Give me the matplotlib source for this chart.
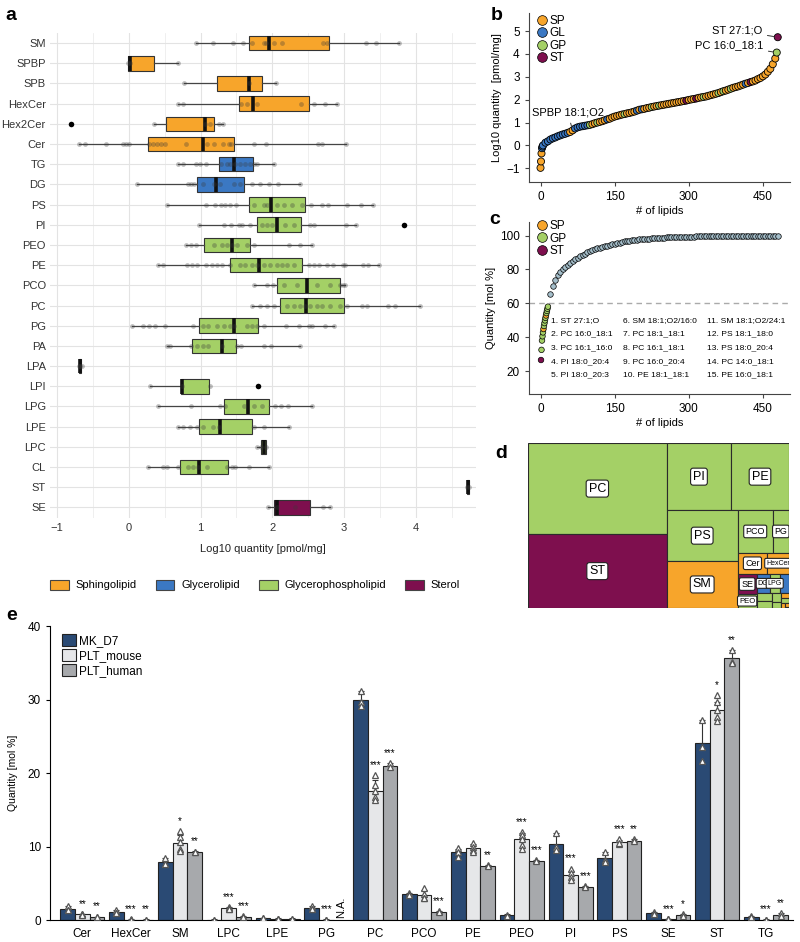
import numpy as np
import matplotlib.pyplot as plt
from matplotlib.patches import Patch, Rectangle
from matplotlib.lines import Line2D

plt.rcParams['font.family'] = ['Liberation Sans', 'DejaVu Sans']

# colours of the lipid categories
cat_colors = {'SP': '#F7A52B', 'GL': '#3B78C3', 'GP': '#A4D066', 'ST': '#7E0F4E'}

# ---------------- panel a: log10 quantity per class ----------------
a_classes = ['SM', 'SPBP', 'SPB', 'HexCer', 'Hex2Cer', 'Cer', 'TG', 'DG', 'PS', 'PI', 'PEO', 'PE',
             'PCO', 'PC', 'PG', 'PA', 'LPA', 'LPI', 'LPG', 'LPE', 'LPC', 'CL', 'ST', 'SE']
a_group = ['SP'] * 6 + ['GL'] * 2 + ['GP'] * 14 + ['ST'] * 2
a_q1 = [1.68, -0.01, 1.23, 1.54, 0.52, 0.26, 1.25, 0.95, 1.67, 1.78, 1.05, 1.41,
        2.07, 2.11, 0.98, 0.88, -0.70, 0.73, 1.33, 0.98, 1.84, 0.71, 4.72, 2.02]
a_med = [1.96, 0.01, 1.67, 1.73, 1.06, 1.03, 1.46, 1.22, 1.98, 2.07, 1.44, 1.81,
         2.49, 2.47, 1.47, 1.30, -0.68, 0.74, 1.66, 1.27, 1.89, 0.98, 4.73, 2.07]
a_q3 = [2.79, 0.35, 1.86, 2.51, 1.19, 1.47, 1.73, 1.60, 2.46, 2.40, 1.69, 2.42,
        2.94, 3.00, 1.80, 1.49, -0.67, 1.12, 1.95, 1.71, 1.91, 1.38, 4.74, 2.52]
a_lo = [0.94, -0.01, 0.77, 0.69, 0.35, -0.69, 0.69, 0.11, 0.53, 0.98, 0.79, 0.41,
        1.74, 1.72, 0.04, 0.53, -0.70, 0.29, 0.41, 0.68, 1.78, 0.26, 4.72, 1.94]
a_hi = [3.76, 0.69, 2.05, 2.90, 1.31, 3.03, 2.03, 2.39, 3.40, 3.17, 2.55, 3.49,
        3.02, 4.06, 2.86, 2.38, -0.67, 1.12, 2.55, 2.23, 1.91, 1.95, 4.74, 2.81]
a_outliers = [[], [], [], [], [-0.81], [], [], [], [], [3.84], [], [],
              [], [], [], [], [], [1.80], [], [], [], [], [], []]
a_points = [
    [0.94, 1.17, 1.45, 1.59, 1.72, 1.88, 1.91, 2.03, 2.13, 2.70, 2.76, 3.31, 3.44, 3.76],
    [-0.01, 0.01, 0.69],
    [0.77, 1.67, 2.05],
    [0.69, 0.75, 1.56, 1.65, 1.78, 2.40, 2.58, 2.73, 2.90],
    [0.35, 1.06, 1.13, 1.25, 1.31],
    [-0.69, -0.61, -0.32, -0.08, -0.04, 0.00, 0.28, 0.34, 0.39, 0.45, 0.51, 0.80, 1.09,
     1.18, 1.31, 1.39, 1.43, 1.75, 1.91, 2.63, 2.69, 3.03],
    [0.69, 0.76, 0.93, 0.99, 1.08, 1.28, 1.37, 1.41, 1.48, 1.55, 1.62, 1.69, 1.75, 1.78, 2.03],
    [0.11, 0.82, 0.86, 0.91, 1.04, 1.18, 1.27, 1.46, 1.55, 1.72, 1.83, 1.96, 2.08, 2.39],
    [0.53, 1.08, 1.20, 1.28, 1.34, 1.41, 1.49, 1.74, 1.88, 1.92, 2.06, 2.16, 2.27, 2.41,
     2.54, 2.69, 2.78, 3.04, 3.24, 3.40],
    [0.98, 1.33, 1.43, 1.53, 1.58, 1.69, 1.85, 1.92, 1.99, 2.18, 2.30, 2.53, 2.58, 3.03, 3.17],
    [0.79, 0.86, 0.93, 1.18, 1.30, 1.37, 1.44, 1.51, 1.65, 1.74, 2.23, 2.39, 2.55],
    [0.41, 0.48, 0.81, 0.88, 0.95, 1.08, 1.16, 1.23, 1.30, 1.41, 1.55, 1.62, 1.72, 1.79, 1.88,
     1.97, 2.06, 2.13, 2.20, 2.30, 2.51, 2.58, 2.65, 2.76, 2.85, 2.99, 3.02, 3.27, 3.34, 3.49],
    [1.74, 1.92, 2.01, 2.16, 2.34, 2.62, 2.81, 2.95, 2.99, 3.02],
    [1.72, 1.83, 1.92, 2.03, 2.20, 2.30, 2.39, 2.46, 2.53, 2.62, 2.69, 2.81, 2.95, 3.04,
     3.25, 3.32, 3.61, 3.71, 4.06],
    [0.04, 0.20, 0.28, 0.37, 0.50, 0.90, 1.04, 1.11, 1.23, 1.32, 1.41, 1.47, 1.65, 1.72,
     1.79, 1.88, 2.19, 2.37, 2.51, 2.55, 2.74, 2.86],
    [0.53, 0.58, 0.86, 0.95, 1.04, 1.11, 1.30, 1.51, 1.56, 1.89, 1.98, 2.38],
    [-0.70, -0.68, -0.66],
    [0.29, 0.74, 1.13],
    [0.41, 0.86, 1.27, 1.34, 1.60, 1.74, 1.85, 2.04, 2.12, 2.22, 2.55],
    [0.68, 0.75, 0.85, 0.95, 1.03, 1.17, 1.25, 1.74, 1.89, 2.23],
    [1.78, 1.84, 1.91],
    [0.26, 0.47, 0.53, 0.68, 0.83, 0.90, 0.97, 1.09, 1.37, 1.44, 1.48, 1.67, 1.95],
    [4.72, 4.74],
    [1.94, 2.07, 2.32, 2.71, 2.81],
]
a_legend = ['Sphingolipid', 'Glycerolipid', 'Glycerophospholipid', 'Sterol']

# ---------------- panel b: ranked log10 quantity ----------------
b_rank = np.r_[[0, 1, 2, 3, 4], np.arange(5, 476, 5), [478, 480]]
b_values = [-0.98, -0.70, -0.35, -0.12, -0.05,
            0.00, 0.12, 0.18, 0.26, 0.31, 0.35, 0.40, 0.44, 0.48, 0.51,
            0.55, 0.59, 0.66, 0.74, 0.79, 0.82, 0.84, 0.86, 0.88, 0.90,
            0.93, 0.97, 1.00, 1.03, 1.06, 1.10, 1.14, 1.17, 1.22, 1.26,
            1.29, 1.32, 1.35, 1.37, 1.40, 1.42, 1.45, 1.48, 1.52, 1.56,
            1.58, 1.60, 1.63, 1.65, 1.68, 1.70, 1.72, 1.74, 1.76, 1.78,
            1.80, 1.82, 1.84, 1.86, 1.88, 1.90, 1.92, 1.94, 1.96, 1.99,
            2.01, 2.03, 2.05, 2.08, 2.10, 2.12, 2.14, 2.17, 2.20, 2.23,
            2.26, 2.29, 2.33, 2.37, 2.40, 2.44, 2.48, 2.52, 2.55, 2.58,
            2.62, 2.66, 2.70, 2.73, 2.77, 2.80, 2.84, 2.90, 2.95, 3.02,
            3.10, 3.22, 3.35, 3.55, 3.80,
            4.06, 4.73]
b_cats = ("OOOBB" "BBBBBBBBBB" "BOOBBBBBBG" "OOGOOOBOOO" "OOOGOOOOBO" "BOOOGOOGOO"
          "OOOOOOOOPO" "OOPOOGOOOO" "OGOGOOGOOO" "OOBOPOOOOO" "OOOOO" "GP")
code_cat = {'O': 'SP', 'B': 'GL', 'G': 'GP', 'P': 'ST'}

# ---------------- panel c: cumulative mol % ----------------
c_top_rank = np.arange(1, 16)
c_top_values = [26.5, 32.5, 38.0, 40.5, 42.8, 44.8, 46.6, 48.3, 49.9, 51.4, 52.8, 54.2, 55.5, 56.8, 58.0]
c_top_cats = "PGGGGOGGGGOGGGG"
c_rank = np.arange(20, 481, 5)
c_values = [65.5, 70.0, 73.5, 76.5, 78.5, 80.3, 81.3, 82.5, 83.8, 85.0,
            86.0, 87.0, 87.9, 88.7, 89.4, 90.1, 90.7, 91.3, 91.9, 92.4,
            92.9, 93.3, 93.7, 94.1, 94.5, 94.9, 95.3, 95.6, 95.9, 96.2,
            96.5, 96.8, 97.0, 97.2, 97.4, 97.6, 97.8, 97.9, 98.0, 98.1,
            98.2, 98.3, 98.4, 98.5, 98.6, 98.7, 98.8, 98.9, 98.95, 99.0,
            99.05, 99.1, 99.15, 99.2, 99.25, 99.3, 99.35, 99.4, 99.45, 99.5,
            99.55, 99.6, 99.63, 99.66, 99.7, 99.73, 99.76, 99.79, 99.82, 99.85,
            99.87, 99.89, 99.91, 99.93, 99.94, 99.95, 99.96, 99.97, 99.98, 99.98,
            99.99, 99.99, 99.99, 100.0, 100.0, 100.0, 100.0, 100.0, 100.0, 100.0,
            100.0, 100.0, 100.0]
c_names = ['1. ST 27:1;O', '2. PC 16:0_18:1', '3. PC 16:1_16:0', '4. PI 18:0_20:4', '5. PI 18:0_20:3',
           '6. SM 18:1;O2/16:0', '7. PC 18:1_18:1', '8. PC 16:1_18:1', '9. PC 16:0_20:4', '10. PE 18:1_18:1',
           '11. SM 18:1;O2/24:1', '12. PS 18:1_18:0', '13. PS 18:0_20:4', '14. PC 14:0_18:1', '15. PE 16:0_18:1']

# ---------------- panel d: treemap of class mol % ----------------
d_classes = ['PC', 'ST', 'PI', 'PE', 'PS', 'SM', 'PCO', 'PG', 'Cer', 'HexCer', 'SE', 'PEO', 'DG', 'LPG',
             'TG', 'LPE', 'PA', 'CL', 'LPI', 'SPB', 'LPC', 'Hex2Cer', 'SPBP', 'LPA']
d_values = [30.0, 24.2, 10.3, 9.2, 8.5, 7.9, 3.5, 1.6, 1.5, 1.1, 0.9, 0.62, 0.58, 0.45,
            0.4, 0.3, 0.25, 0.2, 0.12, 0.1, 0.1, 0.05, 0.03, 0.01]
d_group = ['GP', 'ST', 'GP', 'GP', 'GP', 'SP', 'GP', 'GP', 'SP', 'SP', 'ST', 'GP', 'GL', 'GP',
           'GL', 'GP', 'GP', 'GP', 'GP', 'SP', 'GP', 'SP', 'SP', 'GP']

# ---------------- panel e: class mol % in MK and platelets ----------------
e_classes = ['Cer', 'HexCer', 'SM', 'LPC', 'LPE', 'PG', 'PC', 'PCO', 'PE', 'PEO', 'PI', 'PS', 'SE', 'ST', 'TG']
mk_mean = [1.5, 1.1, 7.9, 0.05, 0.25, 1.65, 29.9, 3.5, 9.2, 0.65, 10.4, 8.45, 0.9, 24.1, 0.45]
mouse_mean = [0.75, 0.05, 10.45, 1.6, 0.2, 0.05, 17.5, 3.4, 9.8, 11.0, 6.1, 10.6, 0.1, 28.6, 0.05]
human_mean = [0.4, 0.05, 9.25, 0.45, 0.2, np.nan, 21.0, 1.15, 7.4, 8.05, 4.55, 10.8, 0.65, 35.6, 0.7]
mk_sd = [0.35, 0.3, 0.5, 0.05, 0.05, 0.2, 1.2, 0.2, 0.5, 0.1, 1.4, 0.8, 0.2, 3.1, 0.1]
mouse_sd = [0.1, 0.05, 1.1, 0.2, 0.05, 0.05, 1.5, 0.7, 0.5, 0.9, 0.6, 0.3, 0.05, 1.1, 0.05]
human_sd = [0.05, 0.05, 0.1, 0.1, 0.05, np.nan, 0.3, 0.1, 0.1, 0.1, 0.1, 0.2, 0.2, 1.1, 0.2]
mk_reps = [[1.9, 1.3, 1.3], [1.4, 1.0, 0.9], [8.5, 7.6, 7.6], [0.05, 0.05], [0.25, 0.25],
           [1.9, 1.55, 1.5], [31.1, 29.6, 29.1], [3.7, 3.4, 3.4], [9.8, 9.3, 8.6], [0.7, 0.6],
           [11.8, 9.9, 9.5], [9.3, 8.2, 7.9], [1.1, 0.8, 0.8], [27.2, 23.6, 21.6], [0.5, 0.4]]
mouse_reps = [[0.85, 0.75, 0.7, 0.7], [0.1, 0.05, 0.05, 0.05], [12.1, 11.3, 10.6, 9.6, 9.4],
              [1.8, 1.6, 1.5, 1.5], [0.2, 0.2, 0.2], [0.05, 0.05, 0.05],
              [19.7, 18.4, 17.5, 16.8, 16.3], [4.3, 3.6, 2.95, 3.0], [10.45, 10.0, 9.55, 9.3],
              [12.0, 11.6, 11.0, 10.2, 9.6], [7.0, 6.45, 5.8, 5.45], [11.0, 10.4, 10.5],
              [0.1, 0.1, 0.1], [30.6, 29.7, 28.6, 27.6, 27.1], [0.05, 0.05, 0.05]]
human_reps = [[0.45, 0.4], [0.05, 0.05], [9.3, 9.2], [0.5, 0.45], [0.2, 0.2], [],
              [21.3, 20.8], [1.2, 1.1], [7.5, 7.4], [8.2, 8.0], [4.6, 4.5], [11.0, 10.7],
              [0.8, 0.6], [36.7, 35.1, 34.9], [0.9, 0.6]]
mouse_sig = ['**', '***', '*', '***', '', '***', '***', '', '', '***', '***', '***', '***', '*', '***']
human_sig = ['**', '**', '**', '***', '', '', '***', '***', '**', '***', '***', '**', '*', '**', '**']
e_series = ['MK_D7', 'PLT_mouse', 'PLT_human']
e_colors = ['#2A4A74', '#E6E7E9', '#A7A9AC']


def layout_row(row, x, y, dx, dy):
    s = sum(row)
    out = []
    if dx >= dy:
        w = s / dy
        for v in row:
            out.append((x, y, w, v / w))
            y += v / w
    else:
        h = s / dx
        for v in row:
            out.append((x, y, v / h, h))
            x += v / h
    return out


def worst(row, x, y, dx, dy):
    return max(max(w / h, h / w) for _, _, w, h in layout_row(row, x, y, dx, dy))


def squarify(vals, x, y, dx, dy, tol=1.55):
    # squarified treemap, a bit more willing to grow a row
    vals = list(np.asarray(vals, float) * dx * dy / np.sum(vals))
    rects = []
    while vals:
        i = 1
        while i < len(vals) and worst(vals[:i], x, y, dx, dy) * tol >= worst(vals[:i + 1], x, y, dx, dy):
            i += 1
        row = vals[:i]
        rects += layout_row(row, x, y, dx, dy)
        if dx >= dy:
            w = sum(row) / dy
            x += w
            dx -= w
        else:
            h = sum(row) / dx
            y += h
            dy -= h
        vals = vals[i:]
    return rects


fig = plt.figure(figsize=(8, 9.42), dpi=100)

# ===== panel a =====
ax = fig.add_axes([0.0625, 0.450, 0.5325, 0.515])
n = len(a_classes)
pos = np.arange(n)
stats = [dict(med=a_med[i], q1=a_q1[i], q3=a_q3[i], whislo=a_lo[i], whishi=a_hi[i], fliers=[])
         for i in range(n)]
bp = ax.bxp(stats, positions=pos, orientation='horizontal', widths=0.72, patch_artist=True,
            showcaps=False, showfliers=False,
            boxprops=dict(edgecolor='#333333', linewidth=0.8),
            whiskerprops=dict(color='#444444', linewidth=0.9),
            medianprops=dict(color='#111111', linewidth=2.6))
for patch, g in zip(bp['boxes'], a_group):
    patch.set_facecolor(cat_colors[g])
for i in range(n):
    ax.scatter(a_points[i], [i] * len(a_points[i]), s=12, color='#3a3a3a', alpha=0.32, lw=0, zorder=4)
    if a_outliers[i]:
        ax.scatter(a_outliers[i], [i] * len(a_outliers[i]), s=16, color='black', lw=0, zorder=4)
ax.set_yticks(pos)
ax.set_yticklabels(a_classes)
ax.set_ylim(n - 0.47, -0.5)
ax.set_xlim(-1.1, 4.84)
ax.set_xticks(np.arange(-1, 5))
ax.set_xticks(np.arange(-0.5, 5, 1), minor=True)
ax.tick_params(axis='both', which='both', length=0, labelsize=8, colors='#333333')
ax.tick_params(axis='y', pad=3)
ax.grid(True, which='major', color='#E3E3E3', linewidth=0.8)
ax.grid(True, which='minor', axis='x', color='#EDEDED', linewidth=0.6)
ax.set_axisbelow(True)
for s in ax.spines.values():
    s.set_visible(False)
ax.set_xlabel('Log10 quantity [pmol/mg]', fontsize=8, color='#222222', labelpad=8)
handles = [Patch(facecolor=cat_colors[g], edgecolor='#444444', linewidth=0.8) for g in ['SP', 'GL', 'GP', 'ST']]
fig.legend(handles, a_legend, loc='center left', bbox_to_anchor=(40 / 800, 1 - 585 / 942), ncol=4,
           frameon=False, fontsize=8, columnspacing=1.7, handlelength=1.7, handleheight=1.0,
           handletextpad=0.6)

# ===== panel b =====
ax = fig.add_axes([0.661, 0.807, 0.326, 0.179])
b_col = [cat_colors[code_cat[c]] for c in b_cats]
ax.scatter(b_rank, b_values, s=26, c=b_col, edgecolors='black', linewidths=0.6, zorder=3)
ax.set_xlim(-23.7, 504)
ax.set_ylim(-1.59, 5.78)
ax.set_xticks([0, 150, 300, 450])
ax.set_yticks(np.arange(-1, 6))
ax.set_xlabel('# of lipids', fontsize=8, labelpad=2)
ax.set_ylabel('Log10 quantity  [pmol/mg]', fontsize=8, labelpad=3)
ax.annotate('SPBP 18:1;O2', xy=(b_rank[17], b_values[17]), xytext=(55, 1.43), fontsize=8,
            ha='center', va='center', arrowprops=dict(arrowstyle='-', color='#333333', lw=0.7,
                                                      shrinkA=2, shrinkB=3))
ax.annotate('ST 27:1;O', xy=(480, 4.73), xytext=(448, 5.03), fontsize=8, ha='right', va='center',
            arrowprops=dict(arrowstyle='-', color='#333333', lw=0.7, shrinkA=2, shrinkB=3))
ax.annotate('PC 16:0_18:1', xy=(478, 4.06), xytext=(450, 4.4), fontsize=8, ha='right', va='center',
            arrowprops=dict(arrowstyle='-', color='#333333', lw=0.7, shrinkA=2, shrinkB=3))
leg = [Line2D([], [], marker='o', ls='', markersize=7, markerfacecolor=cat_colors[g],
              markeredgecolor='black', markeredgewidth=0.5) for g in ['SP', 'GL', 'GP', 'ST']]
ax.legend(leg, ['SP', 'GL', 'GP', 'ST'], loc='upper left', bbox_to_anchor=(-0.01, 1.04), frameon=False,
          fontsize=8.5, handletextpad=0.05, labelspacing=0.05, borderpad=0.2, handlelength=1.2)

# ===== panel c =====
ax = fig.add_axes([0.661, 0.5817, 0.326, 0.1826])
ax.axhline(60, color='#AAAAAA', ls=(0, (4, 3)), lw=1)
ax.scatter(c_rank, c_values, s=16, c='#A5BFCB', edgecolors='black', linewidths=0.5, zorder=3)
ax.scatter(c_top_rank, c_top_values, s=16, c=[cat_colors[code_cat[c]] for c in c_top_cats],
           edgecolors='black', linewidths=0.5, zorder=4)
ax.set_xlim(-23.7, 504)
ax.set_ylim(6.4, 108)
ax.set_xticks([0, 150, 300, 450])
ax.set_yticks([20, 40, 60, 80, 100])
ax.set_xlabel('# of lipids', fontsize=8, labelpad=2)
ax.set_ylabel('Quantity [mol %]', fontsize=8, labelpad=3)
for k, name in enumerate(c_names):
    col, row = divmod(k, 5)
    ax.text([0.086, 0.362, 0.685][col], 0.43 - row * 0.08, name, transform=ax.transAxes,
            fontsize=6.1, ha='left', va='center')
leg = [Line2D([], [], marker='o', ls='', markersize=7, markerfacecolor=cat_colors[g],
              markeredgecolor='black', markeredgewidth=0.5) for g in ['SP', 'GP', 'ST']]
ax.legend(leg, ['SP', 'GP', 'ST'], loc='upper left', bbox_to_anchor=(-0.01, 1.06), frameon=False,
          fontsize=8.5, handletextpad=0.05, labelspacing=0.05, borderpad=0.2, handlelength=1.2)

for ax_ in fig.axes[1:3]:
    for s in ['top', 'right']:
        ax_.spines[s].set_visible(False)
    for s in ['left', 'bottom']:
        ax_.spines[s].set_color('#444444')
    ax_.tick_params(labelsize=8.5, length=3, color='#444444')

# ===== panel d =====
ax = fig.add_axes([0.66, 0.3546, 0.326, 0.1752])
W, H = 261, 165
rects = squarify(d_values, 0, 0, W, H)
for (x, y, w, h), name, val, g in zip(rects, d_classes, d_values, d_group):
    ax.add_patch(Rectangle((x, y), w, h, facecolor=cat_colors[g], edgecolor='#2b2b2b', linewidth=0.8))
    if val >= 0.45:
        # shrink small labels so they roughly fit the tile
        fs = 9 if val > 5 else min(6.5, max(5, w / (0.95 * len(name) + 0.6), h / 2.2 if h < 12 else 0))
        ax.text(x + w / 2, y + h / 2, name, ha='center', va='center', fontsize=fs, clip_on=True,
                bbox=dict(boxstyle='round,pad=0.2', fc='white', ec='#222222', lw=0.8))
ax.set_xlim(0, W)
ax.set_ylim(H, 0)
ax.axis('off')

# ===== panel e =====
ax = fig.add_axes([0.0625, 0.02335, 0.929, 0.3121])
x = np.arange(len(e_classes))
bw = 0.3
for j, (means, sds, reps, sig) in enumerate([(mk_mean, mk_sd, mk_reps, None),
                                             (mouse_mean, mouse_sd, mouse_reps, mouse_sig),
                                             (human_mean, human_sd, human_reps, human_sig)]):
    xs = x + (j - 1) * bw
    m = np.array(means)
    sd = np.array(sds)
    ax.bar(xs, m, width=bw, color=e_colors[j], edgecolor='#222222', linewidth=0.8,
           label=e_series[j], zorder=2)
    ax.errorbar(xs, m, yerr=[np.zeros_like(sd), sd], fmt='none', ecolor='#333333',
                elinewidth=0.8, capsize=2.5, capthick=0.8, zorder=3)
    for i in range(len(e_classes)):
        if reps[i]:
            ax.plot([xs[i]] * len(reps[i]), reps[i], ls='', marker='^', markersize=5,
                    markerfacecolor='white', markeredgecolor='#555555', markeredgewidth=0.9, zorder=4)
        if sig is not None and sig[i]:
            top = max(max(reps[i]), m[i] + sd[i])
            ax.text(xs[i], top + 0.7, sig[i], ha='center', va='bottom', fontsize=7)
ax.text(x[5] + bw, 0.3, 'N.A.', rotation=90, ha='center', va='bottom', fontsize=8)
ax.set_xlim(-0.66, 14.56)
ax.set_ylim(0, 40)
ax.set_yticks([0, 10, 20, 30, 40])
ax.set_xticks(x)
ax.set_xticklabels(e_classes)
ax.tick_params(axis='x', length=0, labelsize=8.5, pad=6)
ax.tick_params(axis='y', length=3, labelsize=8.5)
for s in ['top', 'right']:
    ax.spines[s].set_visible(False)
ax.set_ylabel('Quantity [mol %]', fontsize=7.5, labelpad=7)
ax.legend(loc='upper left', bbox_to_anchor=(0.005, 1.0), frameon=False, fontsize=8.5,
          handlelength=1.2, handleheight=1.2, labelspacing=0.15, handletextpad=0.2, borderpad=0.2)

# panel letters
for lab, (px, py) in zip('abcde', [(11, 15), (497, 15), (495, 219), (501, 453), (12, 615)]):
    fig.text(px / 800, 1 - py / 942, lab, fontsize=14, fontweight='bold', ha='center', va='center')

fig.savefig('out.png', dpi=100)
